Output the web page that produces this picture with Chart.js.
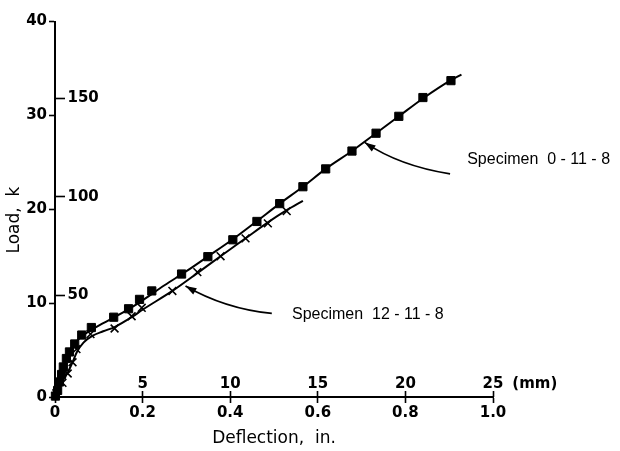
<!DOCTYPE html>
<html>
<head>
<meta charset="utf-8">
<script src="https://cdn.jsdelivr.net/npm/chart.js@4.4.0/dist/chart.umd.min.js"></script>
<style>
  html, body { margin: 0; padding: 0; background: #fff; }
  #wrap { width: 620px; height: 451px; }
</style>
</head>
<body>
<div id="wrap"><canvas id="c" width="620" height="451"></canvas></div>
<script>
// ---- Data ----
// Specimen 0-11-8 (square markers): deflection (in.) and load (k)
const spec0Defl = [0.001, 0.006, 0.010, 0.015, 0.019, 0.026, 0.033, 0.045, 0.061, 0.083, 0.134, 0.168, 0.193, 0.221, 0.289, 0.349, 0.406, 0.461, 0.513, 0.566, 0.618, 0.678, 0.733, 0.785, 0.840, 0.904];
const spec0Load = [0.1, 0.7, 1.6, 2.4, 3.2, 4.1, 4.8, 5.65, 6.6, 7.4, 8.5, 9.4, 10.4, 11.3, 13.1, 14.95, 16.75, 18.7, 20.6, 22.4, 24.3, 26.2, 28.1, 29.9, 31.9, 33.7];
// Drawn curve through specimen 0-11-8
const curve0Defl = [0, 0.008, 0.018, 0.030, 0.045, 0.065, 0.090, 0.134, 0.168, 0.200, 0.250, 0.300, 0.350, 0.406, 0.460, 0.513, 0.566, 0.618, 0.678, 0.733, 0.785, 0.840, 0.904, 0.928];
const curve0Load = [0, 1.2, 3.0, 4.6, 5.7, 6.6, 7.35, 8.45, 9.35, 10.3, 11.9, 13.4, 15.0, 16.8, 18.7, 20.6, 22.4, 24.3, 26.2, 28.1, 29.9, 31.8, 33.75, 34.35];

// Specimen 12-11-8 (x markers)
const spec12Defl = [0.003, 0.017, 0.029, 0.040, 0.049, 0.081, 0.136, 0.175, 0.198, 0.268, 0.325, 0.378, 0.435, 0.486, 0.529];
const spec12Load = [0.4, 1.5, 2.5, 3.7, 5.1, 6.7, 7.3, 8.6, 9.5, 11.3, 13.3, 15.0, 16.9, 18.5, 19.8];
// Drawn curve through specimen 12-11-8
const curve12Defl = [0, 0.010, 0.020, 0.030, 0.040, 0.050, 0.065, 0.085, 0.110, 0.136, 0.175, 0.200, 0.268, 0.325, 0.378, 0.435, 0.486, 0.529, 0.566];
const curve12Load = [0, 1.0, 1.9, 2.7, 3.7, 4.8, 5.8, 6.5, 7.0, 7.45, 8.5, 9.3, 11.3, 13.2, 15.0, 16.9, 18.6, 19.9, 20.9];

// Axis ticks
const inTicks = [0, 0.2, 0.4, 0.6, 0.8, 1.0];
const inTickLabels = ['0', '0.2', '0.4', '0.6', '0.8', '1.0'];
const kTicks = [0, 10, 20, 30, 40];
const mmTicks = [5, 10, 15, 20, 25];
const kNTicks = [50, 100, 150];

// Texts
const xTitle = 'Deflection,  in.';
const yTitle = 'Load,  k';
const mmUnit = '(mm)';
const specimenNotes = [
  { text: 'Specimen  0 - 11 - 8', x: 0.941, y: 25.3 },
  { text: 'Specimen  12 - 11 - 8', x: 0.541, y: 8.8 }
];
// Leader arrows (data units): start, control, tip
const arrows = [
  { from: [0.902, 23.77], ctrl: [0.787, 24.6], to: [0.707, 27.12] },
  { from: [0.495, 8.9], ctrl: [0.387, 9.42], to: [0.298, 11.83] }
];
const mmUnitAt = 26.1;

// ---- Chart ----
const pts = (xs, ys) => xs.map((x, i) => ({ x: x, y: ys[i] }));
const tickFont = { family: 'DejaVu Sans', size: 15, weight: 'bold' };
const titleFont = { family: 'DejaVu Sans', size: 17, weight: 'normal' };
const INK = '#000';
const MM_PAD = 3.5;

const annotate = {
  id: 'annotate',
  afterDatasetsDraw(chart) {
    const ctx = chart.ctx;
    const xs = chart.scales.x, ys = chart.scales.y, x2 = chart.scales.x2;
    ctx.save();
    ctx.fillStyle = INK;
    ctx.strokeStyle = INK;
    ctx.font = '16px "Liberation Sans"';
    ctx.textBaseline = 'middle';
    ctx.textAlign = 'left';
    specimenNotes.forEach(n => {
      ctx.fillText(n.text, xs.getPixelForValue(n.x), ys.getPixelForValue(n.y));
    });
    ctx.lineWidth = 1.7;
    arrows.forEach(a => {
      const p0 = [xs.getPixelForValue(a.from[0]), ys.getPixelForValue(a.from[1])];
      const c = [xs.getPixelForValue(a.ctrl[0]), ys.getPixelForValue(a.ctrl[1])];
      const p2 = [xs.getPixelForValue(a.to[0]), ys.getPixelForValue(a.to[1])];
      ctx.beginPath();
      ctx.moveTo(p0[0], p0[1]);
      ctx.quadraticCurveTo(c[0], c[1], p2[0], p2[1]);
      ctx.stroke();
      const ang = Math.atan2(p2[1] - c[1], p2[0] - c[0]);
      const L = 11, W = 3.6;
      const bx = p2[0] - L * Math.cos(ang), by = p2[1] - L * Math.sin(ang);
      ctx.beginPath();
      ctx.moveTo(p2[0], p2[1]);
      ctx.lineTo(bx + W * Math.sin(ang), by - W * Math.cos(ang));
      ctx.lineTo(bx - W * Math.sin(ang), by + W * Math.cos(ang));
      ctx.closePath();
      ctx.fill();
    });
    // unit label of the mm scale
    ctx.font = 'bold 15px "DejaVu Sans"';
    ctx.textAlign = 'left';
    const lh = 15 * 1.2;
    ctx.fillText(mmUnit, x2.getPixelForValue(mmUnitAt), x2.top - MM_PAD - lh / 2);
    ctx.restore();
  }
};

new Chart(document.getElementById('c'), {
  type: 'scatter',
  data: {
    datasets: [
      { data: pts(curve0Defl, curve0Load), showLine: true, pointRadius: 0, borderColor: INK, borderWidth: 2, cubicInterpolationMode: 'monotone', fill: false },
      { data: pts(spec0Defl, spec0Load), pointStyle: 'rect', pointRadius: 5.8, backgroundColor: INK, borderColor: INK, borderWidth: 1, clip: false },
      { data: pts(curve12Defl, curve12Load), showLine: true, pointRadius: 0, borderColor: INK, borderWidth: 2, cubicInterpolationMode: 'monotone', fill: false },
      { data: pts(spec12Defl, spec12Load), pointStyle: 'crossRot', pointRadius: 5.5, backgroundColor: INK, borderColor: INK, borderWidth: 1.6, clip: false }
    ]
  },
  options: {
    responsive: false,
    animation: false,
    events: [],
    layout: { padding: { left: 0, right: 127, top: 15, bottom: 0 } },
    plugins: { legend: { display: false }, tooltip: { enabled: false } },
    scales: {
      x: {
        type: 'linear', position: 'bottom', weight: 1, min: 0, max: 1,
        afterFit: s => { s.height = 54; },
        afterBuildTicks: s => { s.ticks = inTicks.map(v => ({ value: v })); },
        ticks: { callback: (v, i) => inTickLabels[i], font: tickFont, color: INK, padding: 1, autoSkip: false, maxRotation: 0 },
        grid: { drawOnChartArea: false, drawTicks: true, tickLength: 6, tickWidth: 1.6, tickColor: INK },
        border: { display: true, color: INK, width: 2 },
        title: { display: true, text: xTitle, font: titleFont, color: INK, padding: { top: 0, bottom: 2 } }
      },
      x2: {
        type: 'linear', position: 'bottom', weight: 0, min: 0, max: 25,
        afterFit: s => { s.height = 0; },
        afterBuildTicks: s => { s.ticks = mmTicks.map(v => ({ value: v })); },
        ticks: { mirror: true, padding: MM_PAD, font: tickFont, color: INK, autoSkip: false, maxRotation: 0 },
        grid: { drawOnChartArea: false, drawTicks: true, tickLength: -6, tickWidth: 1.6, tickColor: INK },
        border: { display: false }
      },
      y: {
        type: 'linear', position: 'left', weight: 1, min: 0, max: 40,
        afterFit: s => { s.width = 55; },
        afterBuildTicks: s => { s.ticks = kTicks.map(v => ({ value: v })); },
        ticks: { font: tickFont, color: INK, padding: 2, autoSkip: false },
        grid: { drawOnChartArea: false, drawTicks: true, tickLength: 6, tickWidth: 1.6, tickColor: INK },
        border: { display: true, color: INK, width: 2 },
        title: { display: true, text: yTitle + '\u00a0\u00a0\u00a0\u00a0', font: titleFont, color: INK, padding: { top: 4, bottom: 0 } }
      },
      y2: {
        type: 'linear', position: 'left', weight: 0, min: -1.6, max: 189,
        afterFit: s => { s.width = 0; },
        afterBuildTicks: s => { s.ticks = kNTicks.map(v => ({ value: v })); },
        ticks: { mirror: true, padding: 12.5, font: tickFont, color: INK, autoSkip: false },
        grid: { drawOnChartArea: false, drawTicks: true, tickLength: -10, tickWidth: 1.6, tickColor: INK },
        border: { display: false }
      }
    }
  },
  plugins: [annotate]
});
</script>
</body>
</html>
